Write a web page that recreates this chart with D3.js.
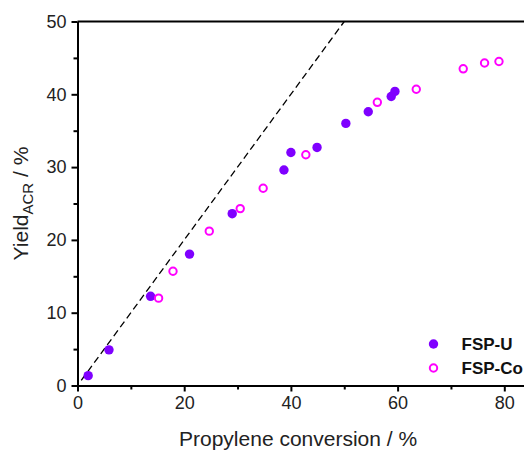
<!DOCTYPE html>
<html>
<head>
<meta charset="utf-8">
<script src="https://cdn.jsdelivr.net/npm/d3@7"></script>
<style>
  body { margin: 0; background: #fff; }
  svg { display: block; font-family: "Liberation Sans", Arial, sans-serif; }
  .axis path, .axis line { stroke: #000; stroke-width: 2; }
  .axis text { font-size: 18px; fill: #222; }
</style>
</head>
<body>
<div id="chart"></div>
<script>
// dados
const fspUConv = [2.0, 5.9, 13.7, 21.0, 29.0, 38.7, 40.0, 44.9, 50.3, 54.5, 58.8, 59.5];
const fspUYield = [1.35, 4.9, 12.25, 18.05, 23.6, 29.6, 32.0, 32.7, 36.0, 37.6, 39.7, 40.4];
const fspCoConv = [15.2, 17.9, 24.7, 30.5, 34.8, 42.8, 56.2, 63.5, 72.3, 76.3, 79.0];
const fspCoYield = [12.0, 15.7, 21.2, 24.3, 27.1, 31.7, 38.9, 40.7, 43.5, 44.3, 44.5];
const xMajorTicks = [0, 20, 40, 60, 80];
const xMinorTicks = [10, 30, 50, 70];
const yMajorTicks = [0, 10, 20, 30, 40, 50];
const yMinorTicks = [5, 15, 25, 35, 45];
const diagonal = [[0.7, 0.7], [50, 50]];
const seriesNames = ['FSP-U', 'FSP-Co'];

const W = 524, H = 451;
const margin = { top: 21.5, left: 77.5 };
const plotW = 533.5, plotH = 364;

const svg = d3.select('#chart').append('svg')
  .attr('width', W)
  .attr('height', H);

const g = svg.append('g')
  .attr('transform', `translate(${margin.left},${margin.top})`);

// o eixo x continua além da borda da imagem (corte do original)
const x = d3.scaleLinear().domain([0, 100]).range([0, plotW]);
const y = d3.scaleLinear().domain([0, 50]).range([plotH, 0]);

// eixos
g.append('g')
  .attr('class', 'axis')
  .attr('transform', `translate(0,${plotH})`)
  .call(d3.axisBottom(x).tickValues(xMinorTicks).tickSize(4).tickFormat('').tickSizeOuter(0));

g.append('g')
  .attr('class', 'axis')
  .attr('transform', `translate(0,${plotH})`)
  .call(d3.axisBottom(x).tickValues(xMajorTicks).tickSize(6).tickPadding(5).tickSizeOuter(0));

g.append('g')
  .attr('class', 'axis')
  .call(d3.axisLeft(y).tickValues(yMinorTicks).tickSize(4).tickFormat('').tickSizeOuter(0));

g.append('g')
  .attr('class', 'axis')
  .call(d3.axisLeft(y).tickValues(yMajorTicks).tickSize(6).tickPadding(5).tickSizeOuter(0));

// borda superior
g.append('line')
  .attr('x1', x(0)).attr('x2', x(100))
  .attr('y1', y(50)).attr('y2', y(50))
  .attr('stroke', '#000')
  .attr('stroke-width', 2);

// linha diagonal tracejada
g.append('path')
  .datum(diagonal)
  .attr('d', d3.line().x(d => x(d[0])).y(d => y(d[1])))
  .attr('fill', 'none')
  .attr('stroke', '#000')
  .attr('stroke-width', 1.3)
  .attr('stroke-dasharray', '7,4');

// FSP-U (cheio)
g.selectAll('.ptU')
  .data(fspUConv.map((c, i) => [c, fspUYield[i]]))
  .enter()
  .append('circle')
  .attr('class', 'ptU')
  .attr('cx', d => x(d[0]))
  .attr('cy', d => y(d[1]))
  .attr('r', 4.7)
  .attr('fill', '#7f00ff');

// FSP-Co (aberto)
g.selectAll('.ptCo')
  .data(fspCoConv.map((c, i) => [c, fspCoYield[i]]))
  .enter()
  .append('circle')
  .attr('class', 'ptCo')
  .attr('cx', d => x(d[0]))
  .attr('cy', d => y(d[1]))
  .attr('r', 3.7)
  .attr('fill', 'none')
  .attr('stroke', '#ff00ff')
  .attr('stroke-width', 2);

// títulos
svg.append('text')
  .attr('x', 179)
  .attr('y', 446)
  .style('font-size', '21px')
  .style('fill', '#222')
  .text('Propylene conversion / %');

const yt = svg.append('text')
  .attr('transform', 'translate(28,203.5) rotate(-90)')
  .attr('text-anchor', 'middle')
  .style('font-size', '21px')
  .style('fill', '#222');
yt.append('tspan').text('Yield');
yt.append('tspan').attr('dy', 5).style('font-size', '15px').text('ACR');
yt.append('tspan').attr('dy', -5).text(' / %');

// legenda
const legend = svg.append('g').attr('transform', 'translate(433.5,344)');
legend.append('circle').attr('r', 4.7).attr('fill', '#7f00ff');
legend.append('circle').attr('cy', 24).attr('r', 3.7)
  .attr('fill', 'none').attr('stroke', '#ff00ff').attr('stroke-width', 2);
legend.selectAll('.lt')
  .data(seriesNames)
  .enter()
  .append('text')
  .attr('class', 'lt')
  .attr('x', 28)
  .attr('y', (d, i) => i * 24 + 6)
  .style('font-size', '17px')
  .style('font-weight', 'bold')
  .style('fill', '#111')
  .text(d => d);
</script>
</body>
</html>
